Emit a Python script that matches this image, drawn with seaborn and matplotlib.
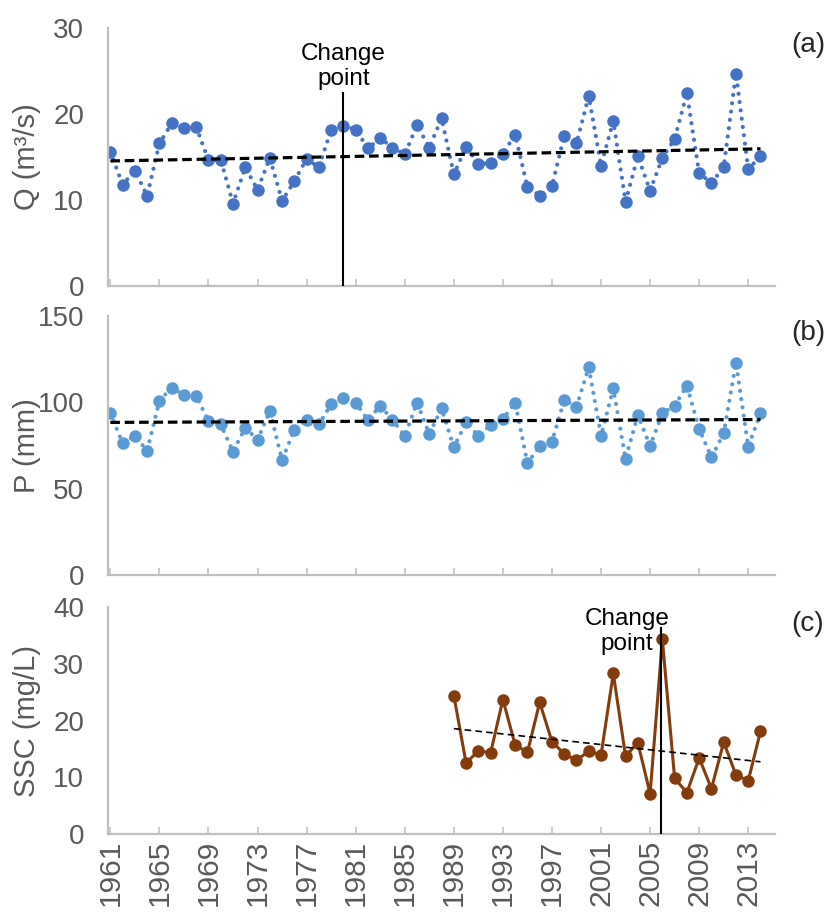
import numpy as np
import matplotlib
matplotlib.use("Agg")
import matplotlib.pyplot as plt
import seaborn as sns

# data
years = np.arange(1961, 2015)
q = [15.6, 11.8, 13.4, 10.5, 16.6, 18.9, 18.4, 18.5, 14.6, 14.7,
     9.6, 13.8, 11.2, 14.9, 9.9, 12.2, 14.8, 13.8, 18.2, 18.6,
     18.2, 16.0, 17.2, 16.1, 15.3, 18.7, 16.1, 19.5, 13.0, 16.2,
     14.2, 14.3, 15.4, 17.6, 11.5, 10.5, 11.6, 17.5, 16.6, 22.1,
     14.0, 19.2, 9.8, 15.1, 11.1, 14.9, 17.1, 22.4, 13.1, 12.0,
     13.8, 24.7, 13.6, 15.1]
p = [93.6, 76.3, 80.5, 72.0, 100.8, 108.5, 104.2, 103.6, 89.2, 87.2,
     71.4, 85.3, 78.2, 95.0, 66.6, 84.0, 89.7, 87.2, 98.8, 102.3,
     99.8, 89.7, 98.0, 89.7, 80.5, 99.8, 81.6, 96.5, 73.9, 88.4,
     80.5, 86.9, 90.3, 99.8, 64.7, 74.7, 77.2, 101.3, 97.5, 120.3,
     80.5, 108.1, 67.2, 92.6, 74.7, 93.6, 98.0, 109.6, 84.5, 68.1,
     82.0, 122.9, 74.3, 93.6]
ssc_years = np.arange(1989, 2015)
ssc = [24.4, 12.5, 14.7, 14.3, 23.7, 15.7, 14.4, 23.2, 16.3, 14.1,
       13.0, 14.6, 13.9, 28.3, 13.7, 16.1, 7.1, 34.3, 9.8, 7.3,
       13.4, 8.0, 16.2, 10.4, 9.4, 18.1]
xtick_years = list(range(1961, 2014, 4))
change_q = 1980
change_ssc = 2005.9

sns.set_theme(style="white")
plt.rcParams['font.family'] = ['Liberation Sans', 'DejaVu Sans']

gray = "#BFBFBF"
txt = "#595959"
c_q = "#4472C4"
c_p = "#5B9BD5"
c_ssc = "#843C0C"

fig = plt.figure(figsize=(8.3, 9.17), dpi=100)
ax1 = fig.add_axes([0.130, 0.688, 0.804, 0.2815])
ax2 = fig.add_axes([0.130, 0.373, 0.804, 0.2825])
ax3 = fig.add_axes([0.130, 0.0905, 0.804, 0.2475])

dots = (0, (0.01, 2.0))
trend_kws = dict(color="black", lw=2.3, ls=(0, (3, 1.5)))

sns.lineplot(x=years, y=q, ax=ax1, color=c_q, marker="o", ms=9, mec=c_q, mew=0,
             lw=3, ls=dots, dash_capstyle="round", errorbar=None)
sns.regplot(x=years, y=q, ax=ax1, scatter=False, ci=None, line_kws=trend_kws)

sns.lineplot(x=years, y=p, ax=ax2, color=c_p, marker="o", ms=9, mec=c_p, mew=0,
             lw=3, ls=dots, dash_capstyle="round", errorbar=None)
sns.regplot(x=years, y=p, ax=ax2, scatter=False, ci=None, line_kws=trend_kws)

sns.lineplot(x=ssc_years, y=ssc, ax=ax3, color=c_ssc, marker="o", ms=9, mec=c_ssc,
             mew=0, lw=2.2, errorbar=None)
sns.regplot(x=ssc_years, y=ssc, ax=ax3, scatter=False, ci=None,
            line_kws=dict(color="black", lw=1.2, ls=(0, (4, 2.5))))

# change points
ax1.vlines(change_q, 0, 22.6, color="black", lw=1.5, zorder=5)
ax1.text(change_q, 22.8, "Change\npoint", ha="center", va="bottom", fontsize=17.5,
         color="black", linespacing=1.15)
ax3.vlines(change_ssc, 0, 36.4, color="black", lw=1.5, zorder=5)
ax3.text(2003.1, 31.6, "Change\npoint", ha="center", va="bottom", fontsize=17.5,
         color="black", linespacing=1.15)

limits = [(0, 30, [0, 10, 20, 30], "Q (m³/s)"),
          (0, 150, [0, 50, 100, 150], "P (mm)"),
          (0, 40, [0, 10, 20, 30, 40], "SSC (mg/L)")]
for ax, (lo, hi, yt, lab) in zip([ax1, ax2, ax3], limits):
    ax.set_xlim(1960.8, 2015.2)
    ax.set_ylim(lo, hi)
    ax.set_yticks(yt)
    ax.set_xticks(xtick_years)
    for s in ["top", "right"]:
        ax.spines[s].set_visible(False)
    for s in ["left", "bottom"]:
        ax.spines[s].set_color(gray)
        ax.spines[s].set_linewidth(1.6)
    ax.tick_params(axis="y", length=0, pad=17, labelsize=20, labelcolor=txt)
    ax.tick_params(axis="x", direction="in", length=5, width=1.1, color=gray,
                   pad=4, labelsize=21.5, labelcolor=txt, bottom=True)
    ax.set_ylabel(lab, fontsize=21, color=txt)
    ax.yaxis.set_label_coords(-0.10, 0.5)
    ax.set_xlabel("")

ax1.set_xticklabels([])
ax2.set_xticklabels([])
ax3.set_xticklabels([str(y) for y in xtick_years], rotation=90)

fig.text(0.9735, 0.951, "(a)", ha="center", va="center", fontsize=20)
fig.text(0.9735, 0.637, "(b)", ha="center", va="center", fontsize=20)
fig.text(0.9735, 0.3195, "(c)", ha="center", va="center", fontsize=20)

fig.savefig("out.png", dpi=100)
